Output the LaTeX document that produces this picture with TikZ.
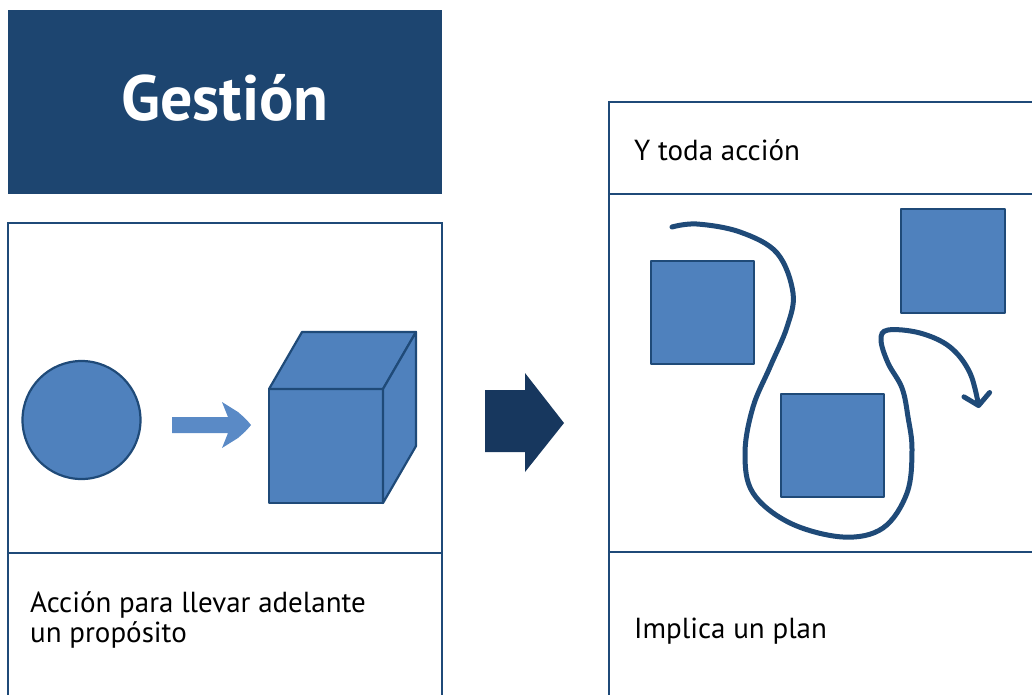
\documentclass[tikz,border=0pt]{standalone}
\usepackage{fontspec}
\setmainfont{PT Sans}
\usetikzlibrary{positioning,arrows.meta}
\definecolor{bleutitre}{HTML}{1D4570}
\definecolor{bleutrait}{HTML}{1F4A78}
\definecolor{bleuforme}{HTML}{4F81BD}
\definecolor{bleufleche}{HTML}{17375E}
\definecolor{bleuclair}{HTML}{5A8AC6}
\begin{document}
\begin{tikzpicture}[x=1pt,y=-1pt,
    cadre/.style={draw=bleutrait,line width=2.5pt},
    forme/.style={fill=bleuforme,draw=bleutrait,line width=2.2pt,line join=round},
    texte/.style={anchor=base west,inner sep=0pt,font=\fontsize{29}{31}\selectfont}]
  \useasboundingbox (0,0) rectangle (1032,694);
  % Titre
  \fill[bleutitre] (8,10) rectangle (442,194);
  \node[anchor=base,inner sep=0pt,text=white,font=\fontsize{64}{64}\selectfont\bfseries] (titre) at (225,120) {Gestión};

  % Cadre de gauche
  \draw[cadre] (8,223) rectangle (442,700);
  \draw[cadre] (8,553) -- (442,553);
  \node[texte] (accion) at (30,612) {Acción para llevar adelante};
  \node[texte] (proposito) at (30,642) {un propósito};

  % Le rond, la petite flèche et le cube
  \node[forme,circle,minimum size=118pt,inner sep=0pt] (rond) at (81.5,420) {};
  \fill[bleuclair] (172,417) -- (228,417) -- (222,402) -- (238,412) .. controls (246,419) .. (251,425)
    .. controls (246,431) .. (238,438) -- (222,448) -- (228,433) -- (172,433) -- cycle;
  \draw[forme] (269,389) rectangle (383,503);
  \draw[forme] (269,389) -- (302,332) -- (416,332) -- (383,389) -- cycle;
  \draw[forme] (383,389) -- (416,332) -- (416,446) -- (383,503) -- cycle;

  % Grosse flèche
  \fill[bleufleche] (485,390) -- (525,390) -- (525,373) -- (564,423) -- (525,472) -- (525,452) -- (485,452) -- cycle;

  % Cadre de droite
  \draw[cadre] (609,102) rectangle (1040,700);
  \draw[cadre] (609,194) -- (1040,194);
  \draw[cadre] (609,552) -- (1040,552);
  \node[texte] (toda) at (634,160) {Y toda acción};
  \node[texte] (plan) at (634,638) {Implica un plan};

  % Les carrés
  \draw[forme] (651,261) rectangle (754,364);
  \draw[forme] (901,209) rectangle (1005,313);
  \draw[forme] (781,394) rectangle (884,497);

  % Le chemin
  \draw[bleutrait,line width=5pt,line cap=round,
    -{Straight Barb[length=11pt,width=26pt,round]}]
    plot[smooth,tension=0.6] coordinates {(672,227) (697,224) (740,232) (777,253) (793,293)
      (787,327) (770,367) (753,407) (745,453) (753,493) (790,523) (843,537) (883,528)
      (907,493) (912,450) (908,417) (902,388) (888,363) (881,340) (888,330) (920,333)
      (950,347) (970,373) (979,408)};
\end{tikzpicture}
\end{document}
